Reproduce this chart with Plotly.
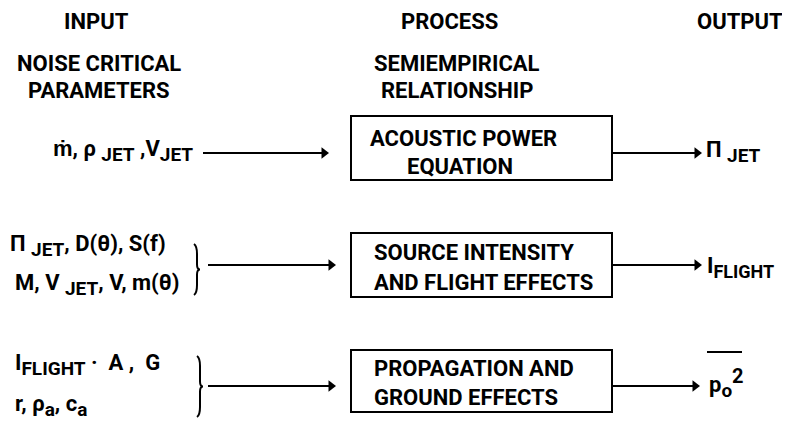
import plotly.graph_objects as go

# ---- diagram content (text labels) ----
column_headers = ["INPUT", "PROCESS", "OUTPUT"]
column_subheaders = [["NOISE CRITICAL", "PARAMETERS"], ["SEMIEMPIRICAL", "RELATIONSHIP"]]
process_lines = [
    ["ACOUSTIC POWER", "EQUATION"],
    ["SOURCE INTENSITY", "AND FLIGHT EFFECTS"],
    ["PROPAGATION AND", "GROUND EFFECTS"],
]

def sub(s, size=19):
    return f"<sub><span style='font-size:{size}px'>{s}</span></sub>"

def sup(s, size=20):
    return f"<sup><span style='font-size:{size}px'>{s}</span></sup>"

input_lines = [
    ["ṁ, ρ " + sub("JET") + " ,V" + sub("JET")],
    ["Π " + sub("JET") + ", D(θ), S(f)", "M, V " + sub("JET") + ", V, m(θ)"],
    ["I" + sub("FLIGHT") + " ·  A ,  G", "r, ρ" + sub("a") + ", c" + sub("a")],
]
output_labels = ["Π " + sub("JET"), "I" + sub("FLIGHT", 18), "p" + sub("o") + sup("2")]

# ---- layout geometry (page pixel coordinates) ----
PAGE_W, PAGE_H = 790, 426
BODY = 8  # default page body margin around the figure
FONT = "Roboto, sans-serif"

header_pos = [(96, 21, "center"), (449, 21, "center"), (784, 21, "right")]
subheader_x = [99, 457]
subheader_y = [63, 90]
boxes = [(351, 116, 612, 180), (351, 233, 612, 297), (351, 350, 612, 412)]
box_text = [
    [(368, 138), (405, 166)],
    [(372, 252), (372, 282)],
    [(372, 368), (372, 397)],
]
row_y = [153, 265, 386]
left_arrow_x = [(203, 329), (208, 336), (208, 336)]
right_arrow_x = [(612, 702), (612, 702), (612, 700)]
input_pos = [
    [(51, 151)],
    [(8, 246), (13, 285)],
    [(13, 365), (13, 406)],
]
brace_specs = [None, (196, 244, 295), (199, 356, 417)]
output_pos = [(704, 152), (705, 267), (707, 383)]
overline = (707, 742, 352)

fig = go.Figure()
annotations = []
shapes = []
txtfont = dict(family=FONT, size=22, color="black", weight="bold")

for i, h in enumerate(column_headers):
    x, y, anc = header_pos[i]
    annotations.append(dict(x=x, y=y, text=h, showarrow=False, borderpad=0,
                            xanchor=anc, yanchor="middle", font=txtfont))
for i, lines in enumerate(column_subheaders):
    for j, h in enumerate(lines):
        annotations.append(dict(x=subheader_x[i], y=subheader_y[j], text=h, showarrow=False,
                                xanchor="center", yanchor="middle", font=txtfont))

line_x, line_y, head_x, head_y = [], [], [], []
for i, (x0, y0, x1, y1) in enumerate(boxes):
    shapes.append(dict(type="rect", x0=x0, y0=y0, x1=x1, y1=y1,
                       line=dict(color="black", width=2), xref="x", yref="y"))
    for j, t in enumerate(process_lines[i]):
        tx, ty = box_text[i][j]
        annotations.append(dict(x=tx, y=ty, text=t, showarrow=False,
                                xanchor="left", yanchor="middle", font=txtfont))
    for (a0, a1) in (left_arrow_x[i], right_arrow_x[i]):
        line_x += [a0, a1 - 4, None]
        line_y += [row_y[i], row_y[i], None]
        head_x.append(a1 - 5)
        head_y.append(row_y[i])

fig.add_trace(go.Scatter(x=line_x, y=line_y, mode="lines",
                         line=dict(color="black", width=2), hoverinfo="skip"))
fig.add_trace(go.Scatter(x=head_x, y=head_y, mode="markers",
                         marker=dict(symbol="triangle-right", size=10, color="black",
                                     line=dict(width=0)), hoverinfo="skip"))

for i, lines in enumerate(input_lines):
    for j, t in enumerate(lines):
        x, y = input_pos[i][j]
        annotations.append(dict(x=x, y=y, text=t, showarrow=False, xanchor="left",
                                yanchor="middle", font=txtfont))
    if brace_specs[i]:
        bx, by0, by1 = brace_specs[i]
        mid = (by0 + by1) / 2
        path = (f"M {bx-2},{by0} Q {bx+1},{by0+2} {bx+1},{by0+10} L {bx+1},{mid-5} "
                f"Q {bx+1},{mid} {bx+4},{mid} Q {bx+1},{mid} {bx+1},{mid+5} "
                f"L {bx+1},{by1-10} Q {bx+1},{by1-2} {bx-2},{by1}")
        shapes.append(dict(type="path", path=path, line=dict(color="black", width=2),
                           xref="x", yref="y"))

for i, t in enumerate(output_labels):
    x, y = output_pos[i]
    annotations.append(dict(x=x, y=y, text=t, showarrow=False, xanchor="left",
                            yanchor="middle", font=txtfont))
shapes.append(dict(type="line", x0=overline[0], x1=overline[1], y0=overline[2], y1=overline[2],
                   line=dict(color="black", width=2), xref="x", yref="y"))

fig.update_layout(
    width=PAGE_W - BODY, height=PAGE_H - BODY, margin=dict(l=0, r=0, t=0, b=0),
    paper_bgcolor="white", plot_bgcolor="white",
    xaxis=dict(range=[BODY, PAGE_W], visible=False, fixedrange=True),
    yaxis=dict(range=[PAGE_H, BODY], visible=False, fixedrange=True),
    annotations=annotations, shapes=shapes, showlegend=False,
)
fig.write_html("out.html")
